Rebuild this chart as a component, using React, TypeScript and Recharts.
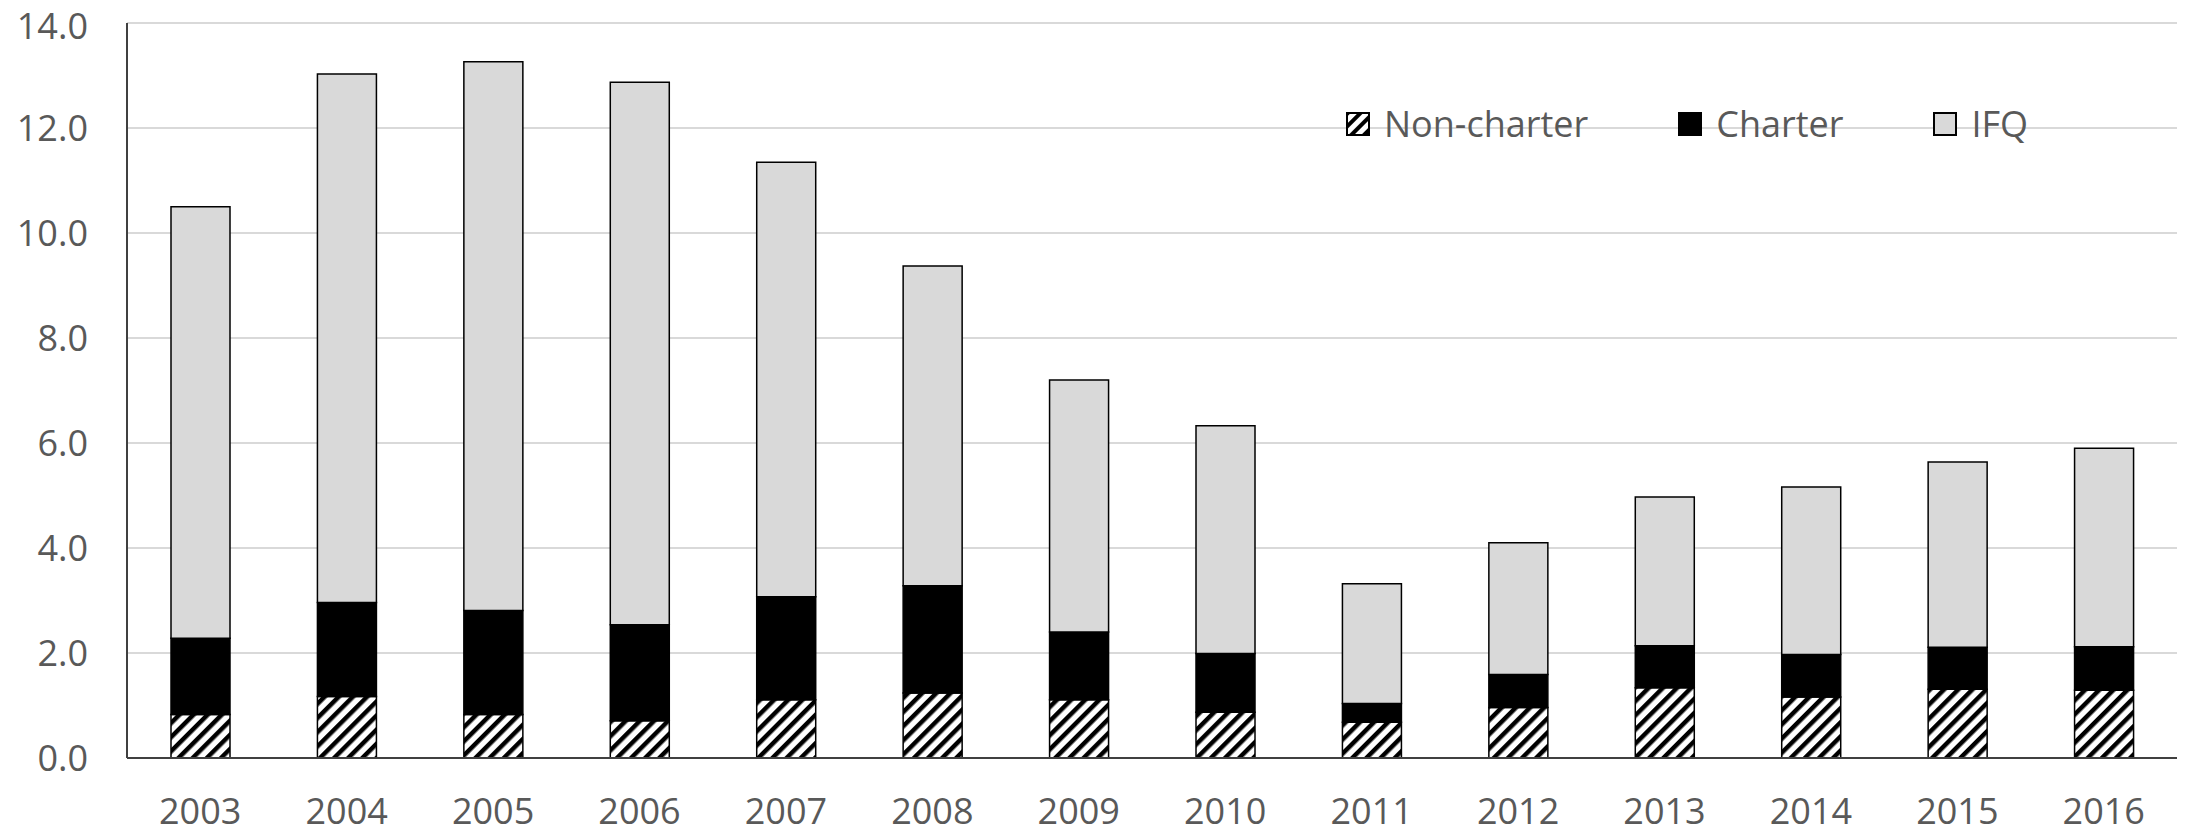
import { BarChart, Bar, XAxis, YAxis, CartesianGrid, Legend } from 'recharts';

const years = ['2003', '2004', '2005', '2006', '2007', '2008', '2009', '2010', '2011', '2012', '2013', '2014', '2015', '2016'];
const nonCharter = [0.83, 1.17, 0.83, 0.71, 1.11, 1.24, 1.11, 0.87, 0.68, 0.96, 1.34, 1.16, 1.31, 1.29];
const charter = [1.45, 1.79, 1.98, 1.83, 1.96, 2.04, 1.29, 1.12, 0.36, 0.63, 0.8, 0.81, 0.8, 0.83];
const ifq = [8.22, 10.07, 10.45, 10.33, 8.28, 6.09, 4.8, 4.34, 2.28, 2.51, 2.83, 3.19, 3.53, 3.78];
const yTicks = [0, 2, 4, 6, 8, 10, 12, 14];

const data = years.map((year, i) => ({
  year,
  nonCharter: nonCharter[i],
  charter: charter[i],
  ifq: ifq[i],
}));

const FONT = '"Open Sans", sans-serif';
const TEXT = '#595959';

const legendItems = [
  { key: 'nonCharter', label: 'Non-charter' },
  { key: 'charter', label: 'Charter' },
  { key: 'ifq', label: 'IFQ' },
];

// keeps the topmost label inside the svg
function YTick({ x, y, payload }: any) {
  return (
    <text x={x} y={Math.max(y, 26)} dy="0.355em" textAnchor="end" fill={TEXT} fontSize={36} fontFamily={FONT}>
      {Number(payload.value).toFixed(1)}
    </text>
  );
}

function Swatch({ kind }: { kind: string }) {
  const fill = kind === 'nonCharter' ? 'url(#hatchLegend)' : kind === 'charter' ? '#000' : '#d9d9d9';
  return (
    <svg width={24} height={24} style={{ display: 'block', marginRight: 14 }}>
      <defs>
        <pattern id="hatchLegend" width={9} height={9} patternUnits="userSpaceOnUse" patternTransform="rotate(45)">
          <rect width={9} height={9} fill="#fff" />
          <rect width={4} height={9} fill="#000" />
        </pattern>
      </defs>
      <rect x={1} y={1} width={22} height={22} fill={fill} stroke="#000" strokeWidth={2} />
    </svg>
  );
}

function renderLegend() {
  return (
    <div style={{ display: 'flex', alignItems: 'center', fontFamily: FONT, fontSize: 36, color: TEXT, lineHeight: '40px' }}>
      {legendItems.map((item, i) => (
        <div key={item.key} style={{ display: 'flex', alignItems: 'center', marginRight: i < legendItems.length - 1 ? 90 : 0 }}>
          <Swatch kind={item.key} />
          <span>{item.label}</span>
        </div>
      ))}
    </div>
  );
}

export default function App() {
  return (
    <div style={{ position: 'fixed', left: 0, top: 0, background: '#fff' }}>
      <BarChart width={2188} height={836} data={data} margin={{ top: 23, right: 11, bottom: 0, left: 0 }}>
        <defs>
          <pattern id="hatch" width={10} height={10} patternUnits="userSpaceOnUse" patternTransform="rotate(45)">
            <rect width={10} height={10} fill="#fff" />
            <rect width={4.5} height={10} fill="#000" />
          </pattern>
        </defs>
        <CartesianGrid vertical={false} stroke="#d9d9d9" strokeWidth={2} />
        <XAxis
          dataKey="year"
          height={78}
          tickLine={false}
          tickSize={0}
          tickMargin={40}
          axisLine={{ stroke: '#404040', strokeWidth: 2 }}
          tick={{ fill: TEXT, fontSize: 36, fontFamily: FONT }}
        />
        <YAxis
          width={127}
          domain={[0, 14]}
          ticks={yTicks}
          interval={0}
          tickLine={false}
          tickSize={0}
          tickMargin={39}
          axisLine={{ stroke: '#404040', strokeWidth: 2 }}
          tick={YTick}
        />
        <Legend
          content={renderLegend}
          verticalAlign="middle"
          align="center"
          wrapperStyle={{ top: 104, left: 1346, width: 'auto' }}
        />
        <Bar dataKey="nonCharter" stackId="a" barSize={59} fill="url(#hatch)" stroke="#000" strokeWidth={1.5} isAnimationActive={false} />
        <Bar dataKey="charter" stackId="a" barSize={59} fill="#000" stroke="#000" strokeWidth={1.5} isAnimationActive={false} />
        <Bar dataKey="ifq" stackId="a" barSize={59} fill="#d9d9d9" stroke="#000" strokeWidth={1.5} isAnimationActive={false} />
      </BarChart>
    </div>
  );
}
